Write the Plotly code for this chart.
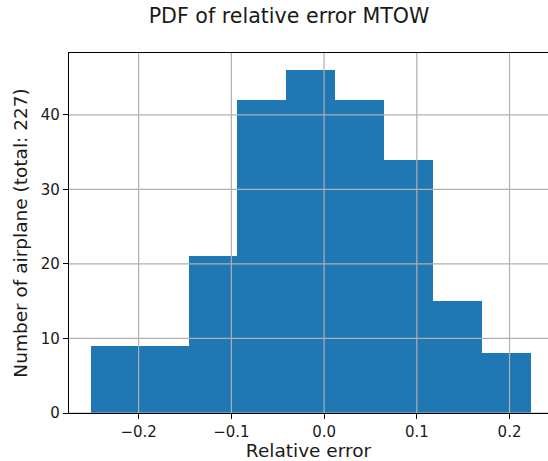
import plotly.graph_objects as go

# Data
BIN_EDGES = [-0.2514, -0.1987, -0.1460, -0.0934, -0.0407, 0.0120, 0.0647, 0.1174, 0.1700, 0.2227]
COUNTS = [9, 9, 21, 42, 46, 42, 34, 15, 8]
X_TICKS = [-0.2, -0.1, 0.0, 0.1, 0.2]
Y_TICKS = [0, 10, 20, 30, 40]
TOTAL = 227

centers = [(a + b) / 2 for a, b in zip(BIN_EDGES[:-1], BIN_EDGES[1:])]
widths = [b - a for a, b in zip(BIN_EDGES[:-1], BIN_EDGES[1:])]

FONT = "DejaVu Sans"
TXT = "#1a1a1a"

fig = go.Figure()
fig.add_trace(go.Bar(
    x=centers, y=COUNTS, width=widths,
    marker=dict(color="#1f77b4", line=dict(width=0)),
    showlegend=False, hoverinfo="x+y",
))

# grid lines drawn above the bars (matplotlib style)
shapes = []
for xv in X_TICKS:
    shapes.append(dict(type="line", xref="x", yref="paper", x0=xv, x1=xv, y0=0, y1=1,
                       line=dict(color="#b0b0b0", width=1.2), layer="above"))
for yv in Y_TICKS:
    shapes.append(dict(type="line", xref="paper", yref="y", x0=0, x1=1, y0=yv, y1=yv,
                       line=dict(color="#b0b0b0", width=1.2), layer="above"))

fig.update_layout(
    width=548, height=461,
    margin=dict(l=69, r=0, t=53, b=48, autoexpand=False),
    paper_bgcolor="white", plot_bgcolor="white",
    bargap=0,
    shapes=shapes,
    font=dict(family=FONT, color=TXT),
    title=dict(text="PDF of relative error MTOW", font=dict(family=FONT, size=20.6, color=TXT),
               x=289 / 548, xanchor="center", xref="container",
               y=1 - 16 / 461, yanchor="middle", yref="container"),
    xaxis=dict(
        range=[-0.2751, 0.2415], tickvals=X_TICKS, tickformat=".1f",
        showgrid=False, zeroline=False,
        showline=True, linecolor="black", linewidth=1.2, mirror=True,
        ticks="outside", ticklen=5, tickwidth=1.2, tickcolor="black",
        tickfont=dict(family=FONT, size=15, color=TXT),
        title=dict(text="Relative error", font=dict(family=FONT, size=18.5, color=TXT), standoff=4),
        automargin=False, layer="above traces",
    ),
    yaxis=dict(
        range=[0, 48.3], tickvals=Y_TICKS,
        showgrid=False, zeroline=False,
        showline=True, linecolor="black", linewidth=1.2, mirror=False,
        ticks="outside", ticklen=5, tickwidth=1.2, tickcolor="black",
        tickfont=dict(family=FONT, size=15, color=TXT),
        title=dict(text=f"Number of airplane (total: {TOTAL})", font=dict(family=FONT, size=18.5, color=TXT), standoff=8),
        automargin=False, layer="above traces",
    ),
)

fig.write_html("out.html", config={"displayModeBar": False},
               post_script="document.body.style.margin='0';document.body.style.padding='0';")
